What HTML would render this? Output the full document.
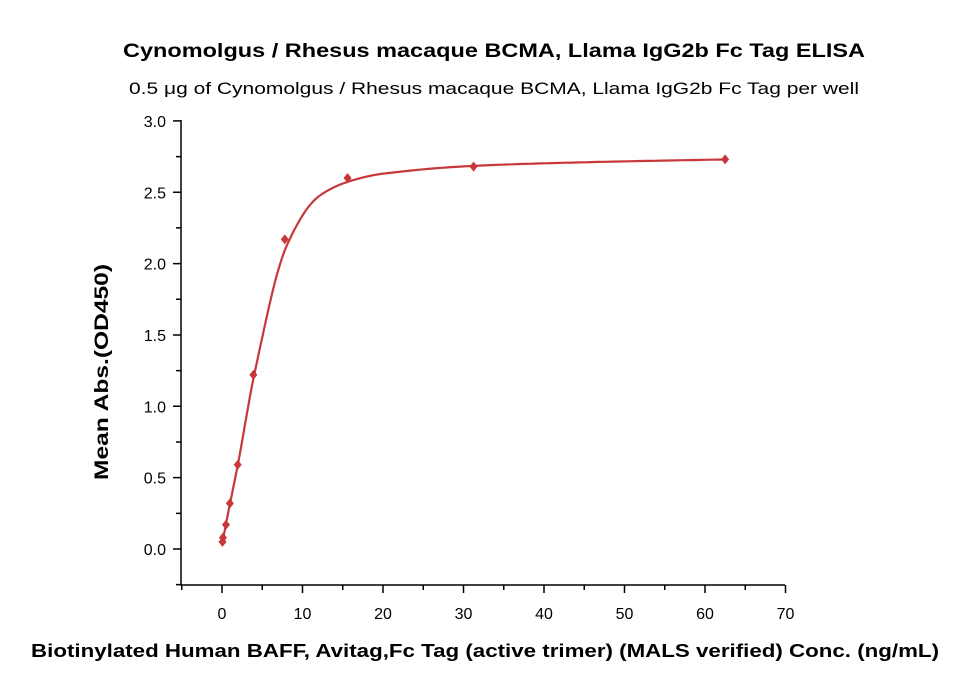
<!DOCTYPE html>
<html><head><meta charset="utf-8"><style>
body{margin:0;background:#fff;}
svg{display:block;font-family:"Liberation Sans",sans-serif;}
</style></head><body>
<svg id="s" width="959" height="685" viewBox="0 0 959 685" xmlns="http://www.w3.org/2000/svg">
<text x="494" y="57" text-anchor="middle" font-size="19" font-weight="bold" textLength="742" lengthAdjust="spacingAndGlyphs">Cynomolgus / Rhesus macaque BCMA, Llama IgG2b Fc Tag ELISA</text>
<text x="494" y="94" text-anchor="middle" font-size="17" textLength="730" lengthAdjust="spacingAndGlyphs">0.5 μg of Cynomolgus / Rhesus macaque BCMA, Llama IgG2b Fc Tag per well</text>
<text x="485" y="657" text-anchor="middle" font-size="18" font-weight="bold" textLength="908" lengthAdjust="spacingAndGlyphs">Biotinylated Human BAFF, Avitag,Fc Tag (active trimer) (MALS verified) Conc. (ng/mL)</text>
<text transform="translate(108,372) rotate(-90)" text-anchor="middle" font-size="19" font-weight="bold" textLength="216" lengthAdjust="spacingAndGlyphs">Mean Abs.(OD450)</text>
<g id="ax" stroke="#000" stroke-width="1.5" fill="none"></g>
<g id="lab" font-size="16" fill="#000"></g>
<path id="curve" fill="none" stroke="#c8383a" stroke-width="2.2"/>
<g id="pts" fill="#c8383a"></g>
</svg>
<script>
var X=function(v){return 222+v*8.05}, Y=function(v){return 549-v*142.7};
var ax=document.getElementById('ax'),lab=document.getElementById('lab');
var d='M181,120 L181,585 L785,585';
for(var v=-0.25;v<=3.001;v+=0.25){var y=Y(v);var maj=Math.abs(v*2-Math.round(v*2))<1e-6;d+=' M181,'+y+' L'+(maj?173:176)+','+y;
 if(maj){lab.innerHTML+='<text x="166" y="'+(y+6)+'" text-anchor="end">'+v.toFixed(1)+'</text>';}}
for(var v=-5;v<=70;v+=5){var x=X(v);var maj=v%10==0;d+=' M'+x+',585 L'+x+','+(maj?593:590);
 if(maj){lab.innerHTML+='<text x="'+x+'" y="619" text-anchor="middle">'+v+'</text>';}}
ax.innerHTML='<path d="'+d+'"/>';
// monotone cubic through control points
var cx=[0.06,1,2,4,8,12,16,20,31.25,45,62.5], cy=[0.05,0.32,0.6,1.22,2.12,2.47,2.58,2.63,2.685,2.71,2.73];
var n=cx.length,dl=[],m=[];
for(var i=0;i<n-1;i++)dl.push((cy[i+1]-cy[i])/(cx[i+1]-cx[i]));
m[0]=dl[0];m[n-1]=dl[n-2];
for(var i=1;i<n-1;i++){m[i]=(dl[i-1]*dl[i]<=0)?0:2/((1/dl[i-1])+(1/dl[i]));}
var p='';
for(var i=0;i<n-1;i++){var h=cx[i+1]-cx[i];for(var t=0;t<=1.0001;t+=0.05){var t2=t*t,t3=t2*t;
 var y=(2*t3-3*t2+1)*cy[i]+(t3-2*t2+t)*h*m[i]+(-2*t3+3*t2)*cy[i+1]+(t3-t2)*h*m[i+1];
 var x=cx[i]+t*h;p+=(p?'L':'M')+X(x).toFixed(1)+','+Y(y).toFixed(1);}}
document.getElementById('curve').setAttribute('d',p);
var data=[[0.06,0.05],[0.12,0.08],[0.49,0.17],[0.98,0.32],[1.95,0.59],[3.9,1.22],[7.8,2.17],[15.6,2.60],[31.25,2.68],[62.5,2.73]];
var g='';data.forEach(function(q){var x=X(q[0]),y=Y(q[1]);g+='<path d="M'+x+','+(y-5)+' L'+(x+4)+','+y+' L'+x+','+(y+5)+' L'+(x-4)+','+y+'Z"/>';});
document.getElementById('pts').innerHTML=g;
</script>
</body></html>
